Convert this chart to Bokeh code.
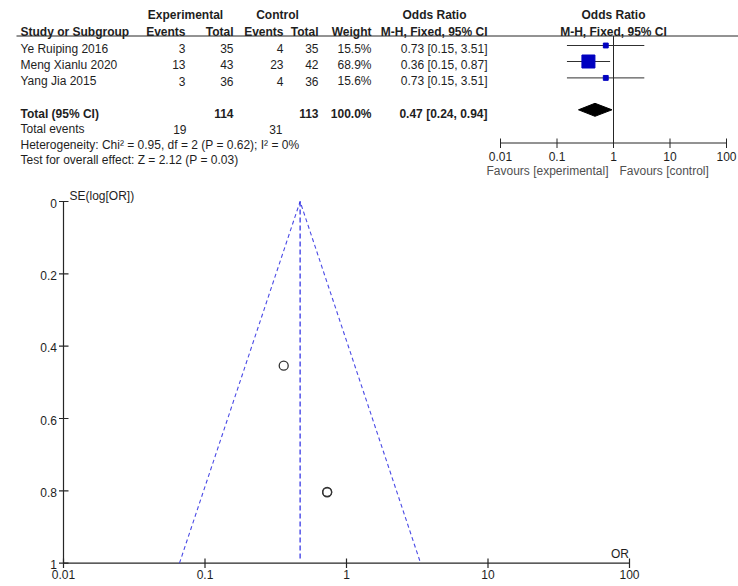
from bokeh.plotting import figure
from bokeh.models import Range1d, LogScale, LinearScale
from bokeh.core.properties import value
from bokeh.embed import file_html
from bokeh.resources import INLINE

# ---------------- data ----------------
studies = ["Ye Ruiping 2016", "Meng Xianlu 2020", "Yang Jia 2015"]
exp_events = [3, 13, 3]
exp_total = [35, 43, 36]
ctrl_events = [4, 23, 4]
ctrl_total = [35, 42, 36]
weights = [15.5, 68.9, 15.6]
or_vals = [0.73, 0.36, 0.73]
ci_low = [0.15, 0.15, 0.15]
ci_high = [3.51, 0.87, 3.51]
total_exp, total_ctrl, total_weight = 114, 113, 100.0
pooled_or, pooled_lo, pooled_hi = 0.47, 0.24, 0.94
events_exp, events_ctrl = 19, 31
het_text = "Heterogeneity: Chi\u00b2 = 0.95, df = 2 (P = 0.62); I\u00b2 = 0%"
test_text = "Test for overall effect: Z = 2.12 (P = 0.03)"
or_ticks = [0.01, 0.1, 1, 10, 100]
or_tick_labels = ["0.01", "0.1", "1", "10", "100"]
funnel_or = [0.73, 0.36, 0.73]
funnel_se = [0.804, 0.454, 0.803]
funnel_lim_x = [0.066, 0.47, 3.34]
funnel_lim_y = [1, 0, 1]
se_ticks = [0, 0.2, 0.4, 0.6, 0.8, 1]
se_tick_labels = ["0", "0.2", "0.4", "0.6", "0.8", "1"]

# ---------------- layout constants ----------------
FONT = value("Liberation Sans")
FS = "12px"
TXT = "#1e1e1e"
AX = "#262626"
W, H = 738, 586
OR_X0, OR_PPD = 500, 56.5       # forest: page x of 0.01, px per decade
F_X0, F_PPD = 63, 141.5         # funnel: page x of 0.01, px per decade
F_Y0, F_YPU = 201, 361.7        # funnel: page y of SE=0, px per SE unit

p = figure(width=W, height=H, x_range=Range1d(0, W), y_range=Range1d(H, 0),
           output_backend="svg", toolbar_location=None, title=None,
           x_axis_location=None, y_axis_location=None, min_border=0,
           outline_line_color=None)
p.grid.visible = False
p.extra_x_ranges = {
    "or": Range1d(10 ** (-2 - OR_X0 / OR_PPD), 10 ** (-2 + (W - OR_X0) / OR_PPD)),
    "fx": Range1d(10 ** (-2 - F_X0 / F_PPD), 10 ** (-2 + (W - F_X0) / F_PPD)),
}
p.extra_x_scales = {"or": LogScale(), "fx": LogScale()}
p.extra_y_ranges = {"se": Range1d((H - F_Y0) / F_YPU, -F_Y0 / F_YPU)}
p.extra_y_scales = {"se": LinearScale()}


def txt(x, y, t, align="left", bold=False, color=TXT, **kw):
    p.text(x=x, y=y, text=t, text_font=FONT, text_font_size=FS, text_align=align,
           text_baseline="middle", text_color=color,
           text_font_style="bold" if bold else "normal", **kw)


# ---------------- table ----------------
txt([185, 277, 434], [14, 14, 14], ["Experimental", "Control", "Odds Ratio"], align="center", bold=True)
txt([20], [31], ["Study or Subgroup"], bold=True)
txt([185, 233, 283, 318, 371, 487], [31] * 6,
    ["Events", "Total", "Events", "Total", "Weight", "M-H, Fixed, 95% CI"], align="right", bold=True)
txt([1, 1], [14, 31], ["Odds Ratio", "M-H, Fixed, 95% CI"], align="center", bold=True, x_range_name="or")
p.segment(x0=[16], y0=[35.5], x1=[W], y1=[35.5], line_color=AX, line_width=1)

ROW_Y = [48.3, 64.3, 80.7]
MK_DY = -3.3
txt([20] * 3, ROW_Y, studies)
txt([185] * 3, ROW_Y, [str(v) for v in exp_events], align="right")
txt([233] * 3, ROW_Y, [str(v) for v in exp_total], align="right")
txt([283] * 3, ROW_Y, [str(v) for v in ctrl_events], align="right")
txt([318] * 3, ROW_Y, [str(v) for v in ctrl_total], align="right")
txt([371] * 3, ROW_Y, ["%.1f%%" % w for w in weights], align="right")
txt([487] * 3, ROW_Y, ["%.2f [%.2f, %.2f]" % (o, a, b) for o, a, b in zip(or_vals, ci_low, ci_high)],
    align="right")

TOT_Y = 113.3
txt([20], [TOT_Y], ["Total (95% CI)"], bold=True)
txt([233, 318, 371, 487], [TOT_Y] * 4,
    [str(total_exp), str(total_ctrl), "%.1f%%" % total_weight,
     "%.2f [%.2f, %.2f]" % (pooled_or, pooled_lo, pooled_hi)], align="right", bold=True)
txt([20], [128.5], ["Total events"])
txt([186, 282], [128.5, 128.5], [str(events_exp), str(events_ctrl)], align="right")
txt([20], [144], [het_text])
txt([20], [159.5], [test_text])

# ---------------- forest plot ----------------
n_t = len(or_ticks)
mk_y = [y + MK_DY for y in ROW_Y]
p.segment(x0=[1], y0=[35.5], x1=[1], y1=[142.5], x_range_name="or", line_color=AX, line_width=1)
p.segment(x0=ci_low, y0=mk_y, x1=ci_high, y1=mk_y, x_range_name="or", line_color="#303030", line_width=1)
p.scatter(x=or_vals, y=mk_y, marker="square", size=[2.5 + 10.5 * w / max(weights) for w in weights],
          fill_color="#0000c0", line_color="#0000c0", x_range_name="or")
dy = TOT_Y - 4
p.patch(x=[pooled_lo, pooled_or, pooled_hi, pooled_or], y=[dy, dy - 6.5, dy, dy + 6.5],
        fill_color="black", line_color="black", x_range_name="or")
p.segment(x0=[or_ticks[0]], y0=[142.5], x1=[or_ticks[-1]], y1=[142.5], x_range_name="or",
          line_color=AX, line_width=1)
p.segment(x0=or_ticks, y0=[138] * n_t, x1=or_ticks, y1=[147.5] * n_t, x_range_name="or",
          line_color=AX, line_width=1)
txt(or_ticks, [155.5] * n_t, or_tick_labels, align="center", x_range_name="or")
txt([1], [170.5], ["Favours [experimental]"], align="right", color="#505050", x_offset=-5, x_range_name="or")
txt([1], [170.5], ["Favours [control]"], align="left", color="#505050", x_offset=6, x_range_name="or")

# ---------------- funnel plot ----------------
n_s = len(se_ticks)
p.segment(x0=[or_ticks[0]], y0=[se_ticks[0]], x1=[or_ticks[0]], y1=[se_ticks[-1]],
          x_range_name="fx", y_range_name="se", line_color=AX, line_width=1.2)
p.segment(x0=[or_ticks[0]], y0=[se_ticks[-1]], x1=[or_ticks[-1]], y1=[se_ticks[-1]],
          x_range_name="fx", y_range_name="se", line_color=AX, line_width=1.2)
p.segment(x0=[58.5] * n_s, y0=se_ticks, x1=[68] * n_s, y1=se_ticks, y_range_name="se",
          line_color=AX, line_width=1.2)
p.segment(x0=or_ticks, y0=[558] * n_t, x1=or_ticks, y1=[567.5] * n_t, x_range_name="fx",
          line_color=AX, line_width=1.2)
txt([56.5] * n_s, se_ticks, se_tick_labels, align="right", y_range_name="se", y_offset=1.5)
txt(or_ticks, [574] * n_t, or_tick_labels, align="center", x_range_name="fx")
txt([69], [195], ["SE(log[OR])"])
txt([628.5], [553.5], ["OR"], align="right")

p.line(funnel_lim_x, funnel_lim_y, x_range_name="fx", y_range_name="se",
       line_color="#4a4ae6", line_width=1.1, line_dash="4 3")
p.segment(x0=[pooled_or], y0=[0], x1=[pooled_or], y1=[0.99], x_range_name="fx", y_range_name="se",
          line_color="#1414e0", line_width=1.1, line_dash="5 3")
p.scatter(x=funnel_or, y=funnel_se, x_range_name="fx", y_range_name="se", marker="circle", size=9,
          fill_color="white", fill_alpha=0, line_color="#333333", line_width=1.3)

open("out.html", "w").write(file_html(p, INLINE))
